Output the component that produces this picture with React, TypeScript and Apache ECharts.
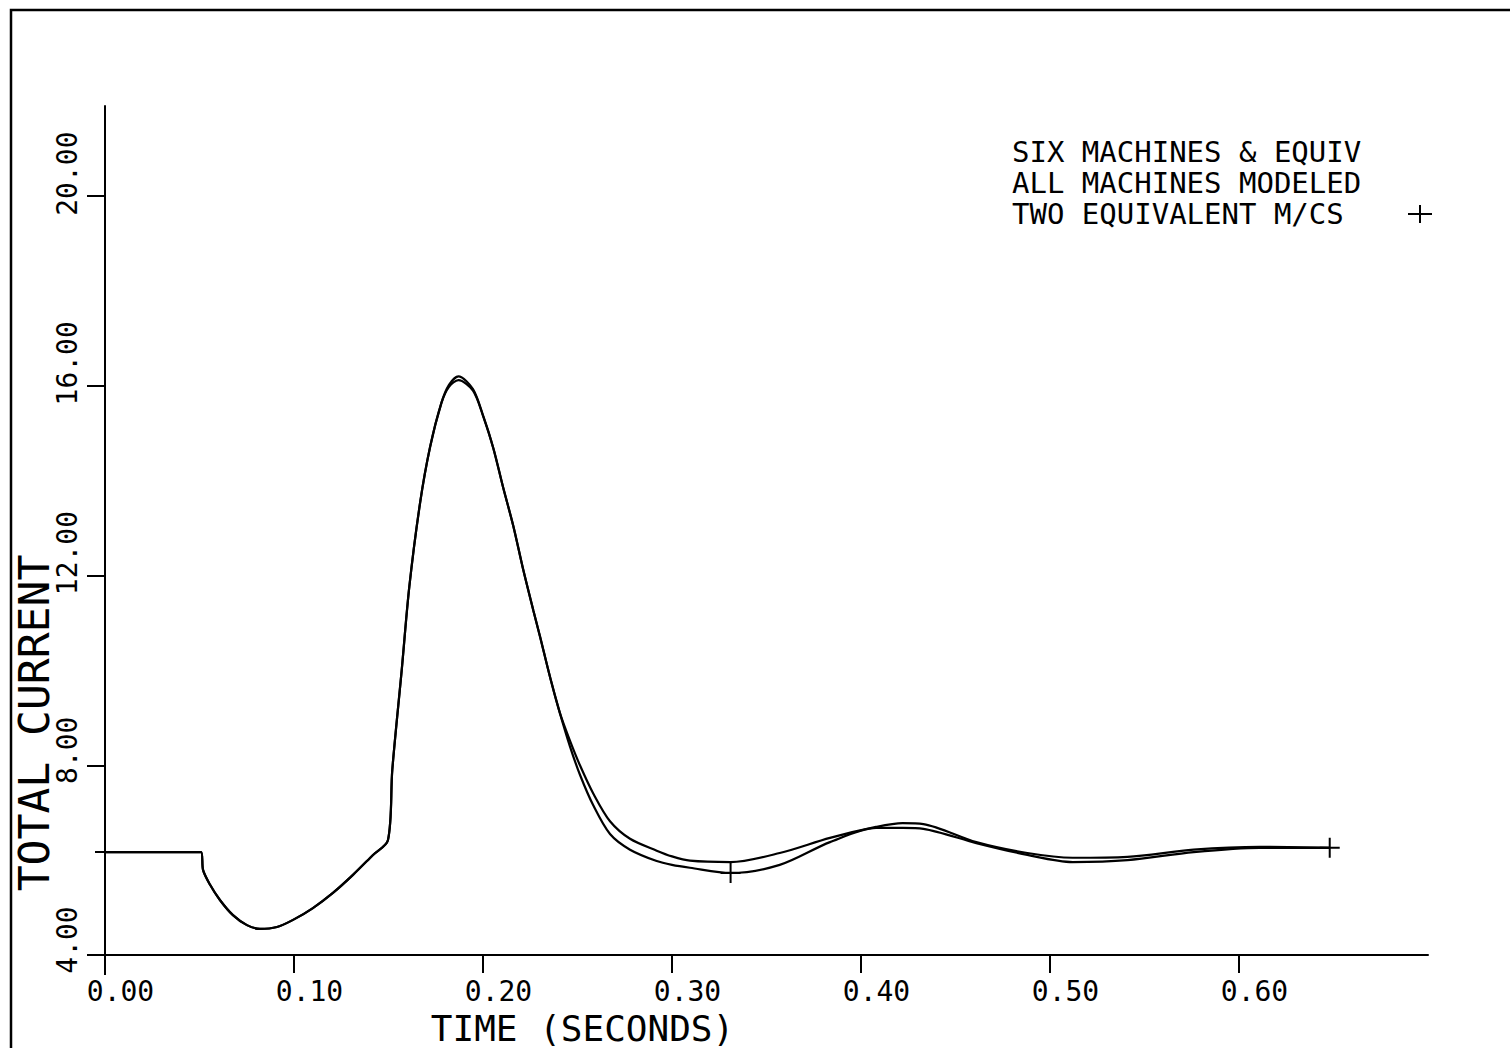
import React, { useEffect, useRef } from "react";
import * as echarts from "echarts";

const time = [
  0, 0.045, 0.0508, 0.0519, 0.0556, 0.0608, 0.0677, 0.0751, 0.082, 0.091,
  0.0995, 0.11, 0.1206, 0.1312, 0.1418, 0.1497, 0.152, 0.157, 0.161, 0.1667,
  0.172, 0.178, 0.182, 0.187, 0.1947, 0.2002, 0.2055, 0.2107, 0.216, 0.2213,
  0.2266, 0.2302, 0.2354, 0.2407, 0.246, 0.2513, 0.2584, 0.2672, 0.2778, 0.2919,
  0.3, 0.3095, 0.331, 0.357, 0.3836, 0.408, 0.422, 0.433, 0.461, 0.488,
  0.512, 0.541, 0.576, 0.611, 0.648,
];

const sixMachinesEquiv = [
  6.17, 6.17, 6.17, 5.79, 5.48, 5.16, 4.84, 4.63, 4.55, 4.59,
  4.74, 4.99, 5.31, 5.69, 6.11, 6.42, 7.9, 10.01, 11.76, 13.53,
  14.71, 15.64, 16.02, 16.2, 15.93, 15.35, 14.68, 13.85, 13.05, 12.12,
  11.27, 10.71, 9.87, 9.1, 8.52, 8.0, 7.4, 6.82, 6.45, 6.2,
  6.08, 5.99, 5.96, 6.15, 6.47, 6.7, 6.78, 6.76, 6.38, 6.15,
  6.05, 6.07, 6.22, 6.28, 6.26,
];

const twoEquivalent = [
  6.17, 6.17, 6.17, 5.79, 5.48, 5.16, 4.84, 4.63, 4.55, 4.59,
  4.74, 4.99, 5.31, 5.69, 6.11, 6.42, 7.9, 10.01, 11.76, 13.53,
  14.71, 15.64, 15.98, 16.12, 15.9, 15.35, 14.68, 13.85, 13.05, 12.12,
  11.27, 10.71, 9.87, 9.1, 8.4, 7.8, 7.15, 6.55, 6.22, 5.98,
  5.9, 5.84, 5.73, 5.9, 6.38, 6.68, 6.68, 6.66, 6.36, 6.11,
  5.96, 6.0, 6.17, 6.26, 6.26,
];

const markerTimes = [0, 0.331, 0.648];
const xTicks = [0, 0.1, 0.2, 0.3, 0.4, 0.5, 0.6];
const yTicks = [4, 8, 12, 16, 20];
const legendLines = ["SIX MACHINES & EQUIV", "ALL MACHINES MODELED", "TWO EQUIVALENT M/CS"];
const xTitle = "TIME (SECONDS)";
const yTitle = "TOTAL CURRENT";

const FONT = '"DejaVu Sans Mono", "Liberation Mono", monospace';
const PLUS = "path://M9,0H11V20H9Z M0,9H20V11H0Z";

export default function App() {
  const ref = useRef<HTMLDivElement>(null);

  useEffect(() => {
    if (!ref.current) return;
    const chart = echarts.init(ref.current, null, { renderer: "svg" });

    const legendGraphics: any[] = legendLines.map((t, i) => ({
      type: "text",
      x: 1012,
      y: 152 + i * 31,
      style: {
        text: t,
        font: `29px ${FONT}`,
        fill: "#000",
        verticalAlign: "middle",
        lineHeight: 29,
      },
    }));

    chart.setOption({
      animation: false,
      backgroundColor: "#fff",
      grid: {
        left: 105,
        right: 82,
        top: 106,
        bottom: 93,
        containLabel: false,
        outerBoundsMode: "none",
      },
      xAxis: {
        type: "value",
        min: 0,
        max: 0.7,
        axisLine: { show: true, lineStyle: { color: "#000", width: 2 } },
        axisTick: {
          show: true,
          length: 18,
          inside: false,
          customValues: xTicks,
          lineStyle: { color: "#000", width: 2 },
        },
        axisLabel: {
          customValues: xTicks,
          formatter: (v: number) => v.toFixed(2),
          color: "#000",
          fontFamily: FONT,
          fontSize: 28,
          lineHeight: 28,
          margin: 22,
          align: "center",
          padding: [0, 0, 0, 31],
        },
        splitLine: { show: false },
        name: xTitle,
        nameLocation: "middle",
        nameGap: 55,
        nameMoveOverlap: false,
        nameTextStyle: {
          fontFamily: FONT,
          fontSize: 36,
          lineHeight: 36,
          color: "#000",
          verticalAlign: "top",
          padding: [0, 368, 0, 0],
        },
      },
      yAxis: {
        type: "value",
        min: 4,
        max: 21.9,
        axisLine: { show: true, lineStyle: { color: "#000", width: 2 } },
        axisTick: {
          show: true,
          length: 18,
          inside: false,
          customValues: yTicks,
          lineStyle: { color: "#000", width: 2 },
        },
        axisLabel: {
          customValues: yTicks,
          rotate: 90,
          margin: 38,
          align: "center",
          verticalAlign: "middle",
          color: "#000",
          fontFamily: FONT,
          fontSize: 28,
          formatter: (v: number) => {
            const s = v.toFixed(2);
            return `{w${s.length}|${s}}`;
          },
          rich: {
            w4: { padding: [0, 0, 0, 30], fontFamily: FONT, fontSize: 28, color: "#000" },
            w5: { padding: [0, 0, 0, 45], fontFamily: FONT, fontSize: 28, color: "#000" },
          },
        },
        splitLine: { show: false },
        name: yTitle,
        nameLocation: "middle",
        nameRotate: 90,
        nameGap: 71,
        nameMoveOverlap: false,
        nameTextStyle: {
          fontFamily: FONT,
          fontSize: 43,
          color: "#000",
          align: "center",
          verticalAlign: "middle",
          padding: [0, 385, 0, 0],
        },
      },
      series: [
        {
          name: legendLines[0],
          type: "line",
          data: time.map((t, i) => [t, sixMachinesEquiv[i]]),
          showSymbol: false,
          smooth: 0.3,
          lineStyle: { color: "#000", width: 2.2 },
          itemStyle: { color: "#000" },
        },
        {
          name: legendLines[2],
          type: "line",
          data: time.map((t, i) => ({
            value: [t, twoEquivalent[i]],
            symbol: markerTimes.includes(t) ? PLUS : "none",
          })),
          showSymbol: true,
          showAllSymbol: true,
          symbolSize: 20,
          smooth: 0.3,
          lineStyle: { color: "#000", width: 2.2 },
          itemStyle: { color: "#000" },
          z: 3,
        },
      ],
      graphic: [
        {
          type: "polyline",
          shape: { points: [[11, 1048], [11, 10], [1510, 10]] },
          style: { stroke: "#000", lineWidth: 2.5, fill: "none" },
        },
        {
          type: "line",
          shape: { x1: 90, y1: 955, x2: 106, y2: 955 },
          style: { stroke: "#000", lineWidth: 2 },
        },
        {
          type: "line",
          shape: { x1: 105, y1: 955, x2: 105, y2: 975 },
          style: { stroke: "#000", lineWidth: 2 },
        },
        ...legendGraphics,
        {
          type: "line",
          shape: { x1: 1408, y1: 214, x2: 1432, y2: 214 },
          style: { stroke: "#000", lineWidth: 2 },
        },
        {
          type: "line",
          shape: { x1: 1420, y1: 205, x2: 1420, y2: 223 },
          style: { stroke: "#000", lineWidth: 2 },
        },
      ],
    });

    return () => chart.dispose();
  }, []);

  return (
    <div
      ref={ref}
      style={{ position: "fixed", left: 0, top: 0, width: 1510, height: 1048, background: "#fff" }}
    />
  );
}
